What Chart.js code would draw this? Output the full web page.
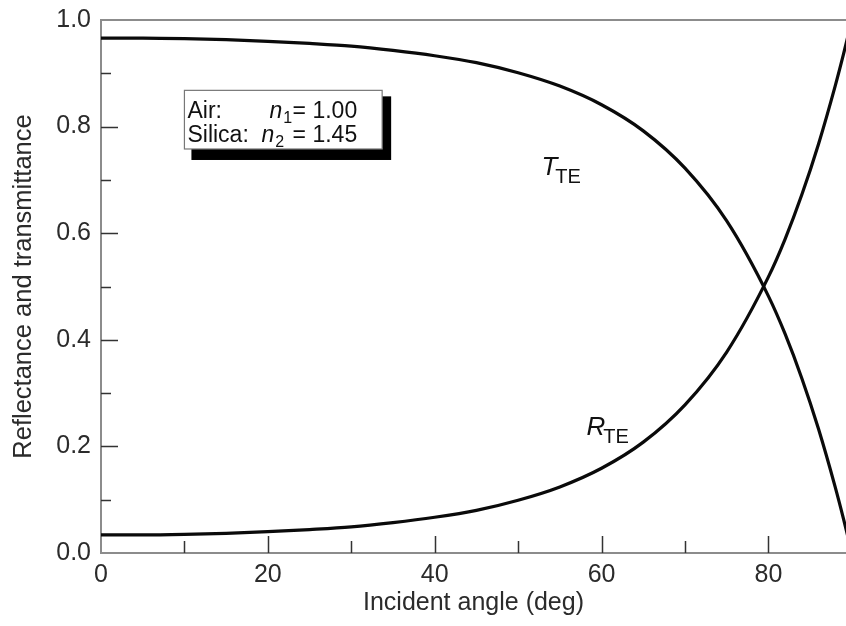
<!DOCTYPE html>
<html>
<head>
<meta charset="utf-8">
<script src="https://cdn.jsdelivr.net/npm/chart.js@4/dist/chart.umd.min.js"></script>
<style>
  html, body { margin: 0; background: #fff; }
  #wrap { width: 846px; height: 626px; }
</style>
</head>
<body>
<div id="wrap"><canvas id="fresnel" width="846" height="626"></canvas></div>
<script>
// TE reflectance / transmittance, air -> silica
const angles = [0, 5, 10, 15, 20, 25, 30, 35, 40, 45, 50, 55, 60, 65, 70, 75, 80, 82, 84, 86, 88, 89, 90];
const reflectanceTE = [0.034, 0.034, 0.035, 0.037, 0.040, 0.044, 0.049, 0.057, 0.067, 0.080, 0.099, 0.124,
  0.159, 0.208, 0.278, 0.377, 0.518, 0.589, 0.672, 0.767, 0.876, 0.936, 1.000];
const transmittanceTE = [0.966, 0.966, 0.965, 0.963, 0.960, 0.956, 0.951, 0.943, 0.933, 0.920, 0.901, 0.876,
  0.841, 0.792, 0.722, 0.623, 0.482, 0.411, 0.328, 0.233, 0.124, 0.064, 0.000];

const xLabelTicks = [0, 20, 40, 60, 80];
const yLabelTicks = [0.0, 0.2, 0.4, 0.6, 0.8, 1.0];

const FONT = '"Liberation Sans", Arial, Helvetica, sans-serif';
const axisGrey = '#8c8c8c';
const textCol = '#2b2b2b';

const toPoints = (ys) => angles.map((a, i) => ({ x: a, y: ys[i] }));

// extra marks: inward ticks, top frame, the n1/n2 box and curve labels
const decorations = {
  id: 'decorations',
  afterDatasetsDraw(chart) {
    const { ctx, chartArea: a, scales: { x, y } } = chart;
    ctx.save();

    ctx.strokeStyle = axisGrey;
    ctx.lineWidth = 2;
    ctx.beginPath();
    ctx.moveTo(a.left, a.top);
    ctx.lineTo(a.right, a.top);
    ctx.stroke();

    ctx.strokeStyle = '#333';
    ctx.lineWidth = 1.5;
    ctx.beginPath();
    for (let v = 10; v <= 80; v += 10) {
      const px = Math.round(x.getPixelForValue(v)) + 0.5;
      const len = v % 20 === 0 ? 17 : 12;
      ctx.moveTo(px, a.bottom);
      ctx.lineTo(px, a.bottom - len);
    }
    for (let i = 1; i < 10; i++) {
      const py = Math.round(y.getPixelForValue(i / 10)) + 0.5;
      const len = i % 2 === 0 ? 17 : 10;
      ctx.moveTo(a.left, py);
      ctx.lineTo(a.left + len, py);
    }
    ctx.stroke();

    // legend box with heavy shadow
    const x0 = x.getPixelForValue(10.0), x1 = x.getPixelForValue(33.7);
    const y0 = y.getPixelForValue(0.868), y1 = y.getPixelForValue(0.758);
    ctx.fillStyle = '#000';
    ctx.fillRect(x0 + 7, y0 + 6, (x1 - x0) + 2, (y1 - y0) + 5);
    ctx.fillStyle = '#fff';
    ctx.fillRect(x0, y0, x1 - x0, y1 - y0);
    ctx.strokeStyle = '#777';
    ctx.lineWidth = 1.2;
    ctx.strokeRect(x0, y0, x1 - x0, y1 - y0);

    ctx.fillStyle = '#111';
    ctx.textBaseline = 'alphabetic';
    ctx.textAlign = 'left';
    const rows = [
      { name: 'Air:', sub: '1', val: '1.00', nx: 85, dy: 28 },
      { name: 'Silica:', sub: '2', val: '1.45', nx: 77, dy: 52 }
    ];
    rows.forEach(r => {
      const base = y0 + r.dy;
      ctx.font = '23px ' + FONT;
      ctx.fillText(r.name, x0 + 3, base);
      ctx.font = 'italic 23px ' + FONT;
      ctx.fillText('n', x0 + r.nx, base);
      const nw = ctx.measureText('n').width;
      ctx.font = '16px ' + FONT;
      ctx.fillText(r.sub, x0 + r.nx + nw + 1, base + 5);
      ctx.font = '23px ' + FONT;
      ctx.fillText('=', x0 + 108, base);
      ctx.fillText(r.val, x0 + 128, base);
    });

    // curve labels
    const label = (main, ax, ay) => {
      const px = x.getPixelForValue(ax), py = y.getPixelForValue(ay);
      ctx.font = 'italic 26px ' + FONT;
      ctx.fillStyle = '#111';
      ctx.fillText(main, px, py);
      const w = ctx.measureText(main).width;
      ctx.font = '20px ' + FONT;
      ctx.fillText('TE', px + w - 2, py + 8);
    };
    label('T', 52.8, 0.709);
    label('R', 58.2, 0.221);

    ctx.restore();
  }
};

new Chart(document.getElementById('fresnel'), {
  type: 'line',
  data: {
    datasets: [
      { label: 'T_TE', data: toPoints(transmittanceTE) },
      { label: 'R_TE', data: toPoints(reflectanceTE) }
    ]
  },
  options: {
    responsive: false,
    animation: false,
    layout: { padding: { top: 20, right: 0, bottom: 0, left: 0 } },
    elements: {
      line: { borderColor: '#0a0a0a', borderWidth: 3.2, cubicInterpolationMode: 'monotone' },
      point: { radius: 0 }
    },
    plugins: { legend: { display: false }, tooltip: { enabled: false } },
    scales: {
      x: {
        type: 'linear',
        min: 0,
        max: 89.3,
        afterFit: (s) => { s.height = 73; },
        grid: { display: false, drawTicks: false },
        border: { display: true, color: axisGrey, width: 2 },
        ticks: {
          stepSize: 10,
          includeBounds: false,
          autoSkip: false,
          maxRotation: 0,
          padding: 7,
          color: textCol,
          font: { family: FONT, size: 25 },
          callback: (v) => xLabelTicks.includes(v) ? String(v) : ''
        },
        title: {
          display: true,
          text: 'Incident angle (deg)',
          color: textCol,
          font: { family: FONT, size: 25 },
          padding: { top: 0, bottom: 8 }
        }
      },
      y: {
        min: 0,
        max: 1,
        afterFit: (s) => { s.width = 101; s.paddingTop = 0; s.paddingBottom = 0; },
        grid: { display: false, drawTicks: false },
        border: { display: true, color: axisGrey, width: 2 },
        ticks: {
          stepSize: 0.1,
          autoSkip: false,
          padding: 10,
          color: textCol,
          font: { family: FONT, size: 25 },
          callback: (v) => {
            const r = Math.round(v * 10) / 10;
            return yLabelTicks.some(t => Math.abs(t - r) < 1e-9) ? r.toFixed(1) : '';
          }
        },
        title: {
          display: true,
          text: 'Reflectance and transmittance',
          color: textCol,
          font: { family: FONT, size: 25.5 },
          padding: { top: 9, bottom: 0 }
        }
      }
    }
  },
  plugins: [decorations]
});
</script>
</body>
</html>
